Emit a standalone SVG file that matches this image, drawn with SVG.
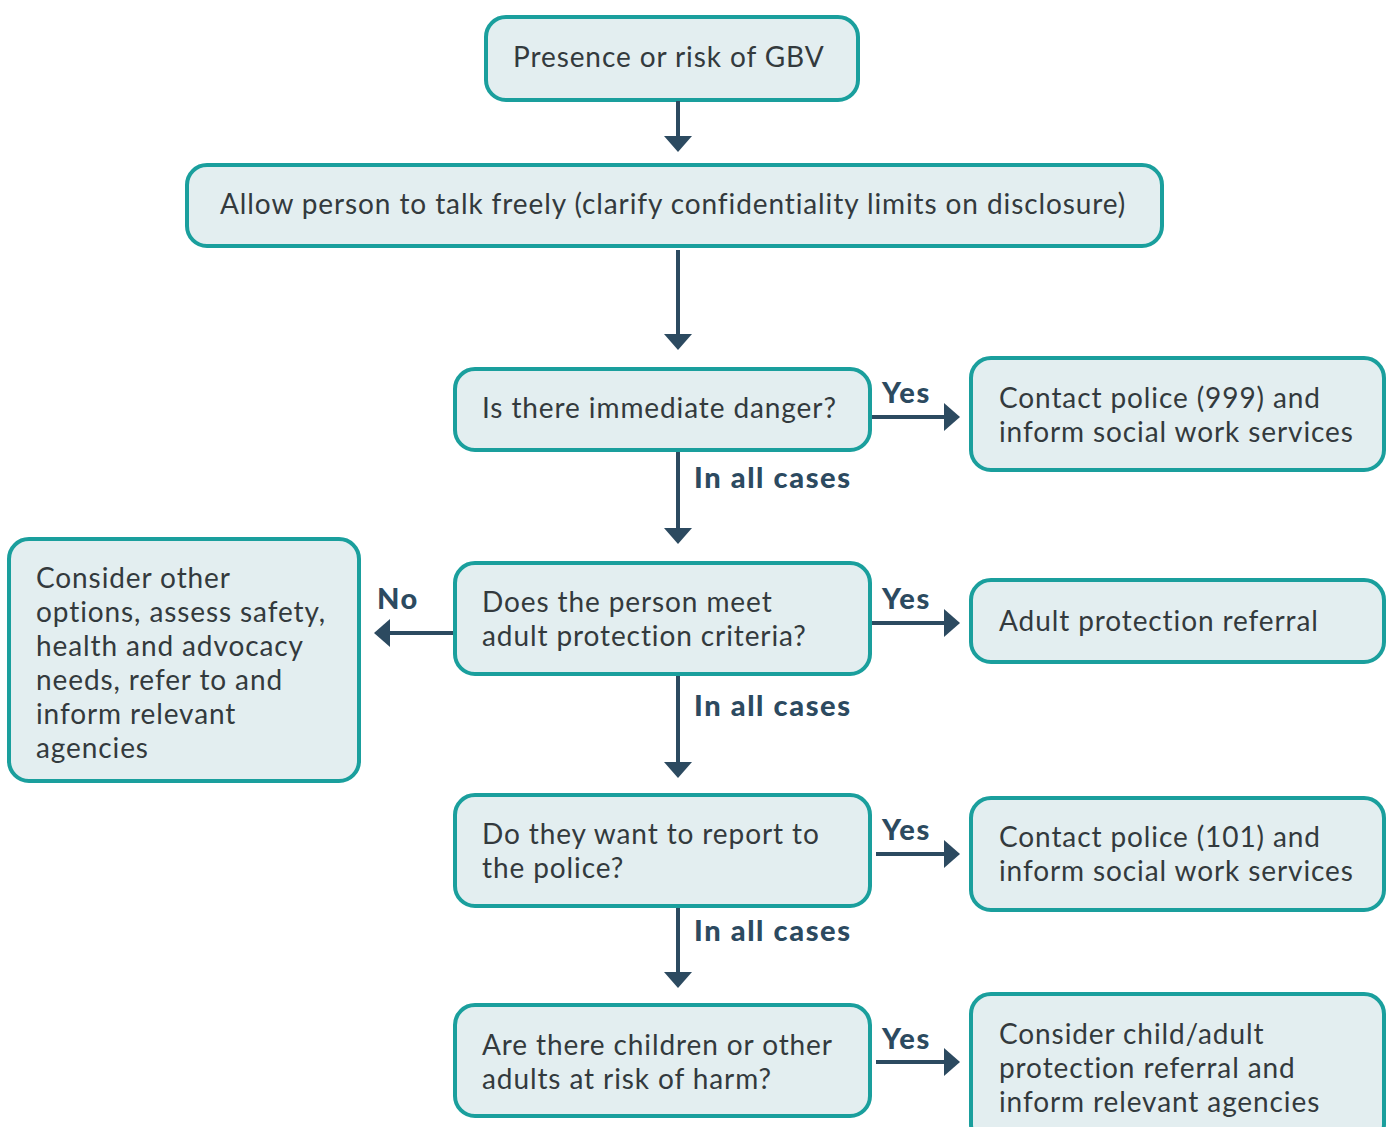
<svg xmlns="http://www.w3.org/2000/svg" width="1390" height="1127" viewBox="0 0 1390 1127">
  <defs>
    <style>
      .box { fill: #e3eef0; stroke: #1a9f9d; stroke-width: 4; }
      .txt { font-family: Lato, "Open Sans", sans-serif; font-size: 28px; fill: #333a3d; letter-spacing: 0.9px; }
      .lbl { font-family: Lato, "Open Sans", sans-serif; font-size: 29px; font-weight: 900; fill: #2c4a60; letter-spacing: 1.6px; }
      .conn { stroke: #2c4a60; stroke-width: 4; fill: none; }
      .head { fill: #2c4a60; }
    </style>
  </defs>

  <!-- nodes -->
  <g id="n-start">
    <rect class="box" x="486" y="17" width="372" height="83" rx="20"/>
    <text class="txt" x="513" y="67">Presence or risk of GBV</text>
  </g>
  <g id="n-talk">
    <rect class="box" x="187" y="165" width="975" height="81" rx="20"/>
    <text class="txt" x="220" y="214">Allow person to talk freely (clarify confidentiality limits on disclosure)</text>
  </g>
  <g id="n-danger">
    <rect class="box" x="455" y="369" width="415" height="81" rx="20"/>
    <text class="txt" x="482" y="418">Is there immediate danger?</text>
  </g>
  <g id="n-police999">
    <rect class="box" x="971" y="358" width="413" height="112" rx="20"/>
    <text class="txt" x="999" y="408">Contact police (999) and</text>
    <text class="txt" x="999" y="442">inform social work services</text>
  </g>
  <g id="n-criteria">
    <rect class="box" x="455" y="563" width="415" height="111" rx="20"/>
    <text class="txt" x="482" y="612">Does the person meet</text>
    <text class="txt" x="482" y="646">adult protection criteria?</text>
  </g>
  <g id="n-referral">
    <rect class="box" x="971" y="580" width="413" height="82" rx="20"/>
    <text class="txt" x="999" y="631">Adult protection referral</text>
  </g>
  <g id="n-other">
    <rect class="box" x="9" y="539" width="350" height="242" rx="20"/>
    <text class="txt" x="36" y="588">Consider other</text>
    <text class="txt" x="36" y="622">options, assess safety,</text>
    <text class="txt" x="36" y="656">health and advocacy</text>
    <text class="txt" x="36" y="690">needs, refer to and</text>
    <text class="txt" x="36" y="724">inform relevant</text>
    <text class="txt" x="36" y="758">agencies</text>
  </g>
  <g id="n-report">
    <rect class="box" x="455" y="795" width="415" height="111" rx="20"/>
    <text class="txt" x="482" y="844">Do they want to report to</text>
    <text class="txt" x="482" y="878">the police?</text>
  </g>
  <g id="n-police101">
    <rect class="box" x="971" y="798" width="413" height="112" rx="20"/>
    <text class="txt" x="999" y="847">Contact police (101) and</text>
    <text class="txt" x="999" y="881">inform social work services</text>
  </g>
  <g id="n-harm">
    <rect class="box" x="455" y="1005" width="415" height="111" rx="20"/>
    <text class="txt" x="482" y="1055">Are there children or other</text>
    <text class="txt" x="482" y="1089">adults at risk of harm?</text>
  </g>
  <g id="n-child">
    <rect class="box" x="971" y="994" width="413" height="150" rx="20"/>
    <text class="txt" x="999" y="1044">Consider child/adult</text>
    <text class="txt" x="999" y="1078">protection referral and</text>
    <text class="txt" x="999" y="1112">inform relevant agencies</text>
  </g>

  <!-- connectors -->
  <g id="connectors">
    <line class="conn" x1="678" y1="101" x2="678" y2="138"/>
    <path class="head" d="M664,136 L692,136 L678,152 Z"/>
    <line class="conn" x1="678" y1="250" x2="678" y2="336"/>
    <path class="head" d="M664,334 L692,334 L678,350 Z"/>
    <line class="conn" x1="678" y1="452" x2="678" y2="530"/>
    <path class="head" d="M664,528 L692,528 L678,544 Z"/>
    <line class="conn" x1="678" y1="676" x2="678" y2="764"/>
    <path class="head" d="M664,762 L692,762 L678,778 Z"/>
    <line class="conn" x1="678" y1="908" x2="678" y2="974"/>
    <path class="head" d="M664,972 L692,972 L678,988 Z"/>

    <line class="conn" x1="872" y1="417" x2="946" y2="417"/>
    <path class="head" d="M944,403 L944,431 L960,417 Z"/>
    <line class="conn" x1="872" y1="623" x2="946" y2="623"/>
    <path class="head" d="M944,609 L944,637 L960,623 Z"/>
    <line class="conn" x1="876" y1="854" x2="946" y2="854"/>
    <path class="head" d="M944,840 L944,868 L960,854 Z"/>
    <line class="conn" x1="876" y1="1062" x2="946" y2="1062"/>
    <path class="head" d="M944,1048 L944,1076 L960,1062 Z"/>

    <line class="conn" x1="453" y1="633" x2="388" y2="633"/>
    <path class="head" d="M390,619 L390,647 L374,633 Z"/>

    <text class="lbl" x="882" y="403">Yes</text>
    <text class="lbl" x="882" y="609">Yes</text>
    <text class="lbl" x="882" y="840">Yes</text>
    <text class="lbl" x="882" y="1049">Yes</text>
    <text class="lbl" x="377" y="609">No</text>
    <text class="lbl" x="694" y="488">In all cases</text>
    <text class="lbl" x="694" y="716">In all cases</text>
    <text class="lbl" x="694" y="941">In all cases</text>
  </g>
</svg>
